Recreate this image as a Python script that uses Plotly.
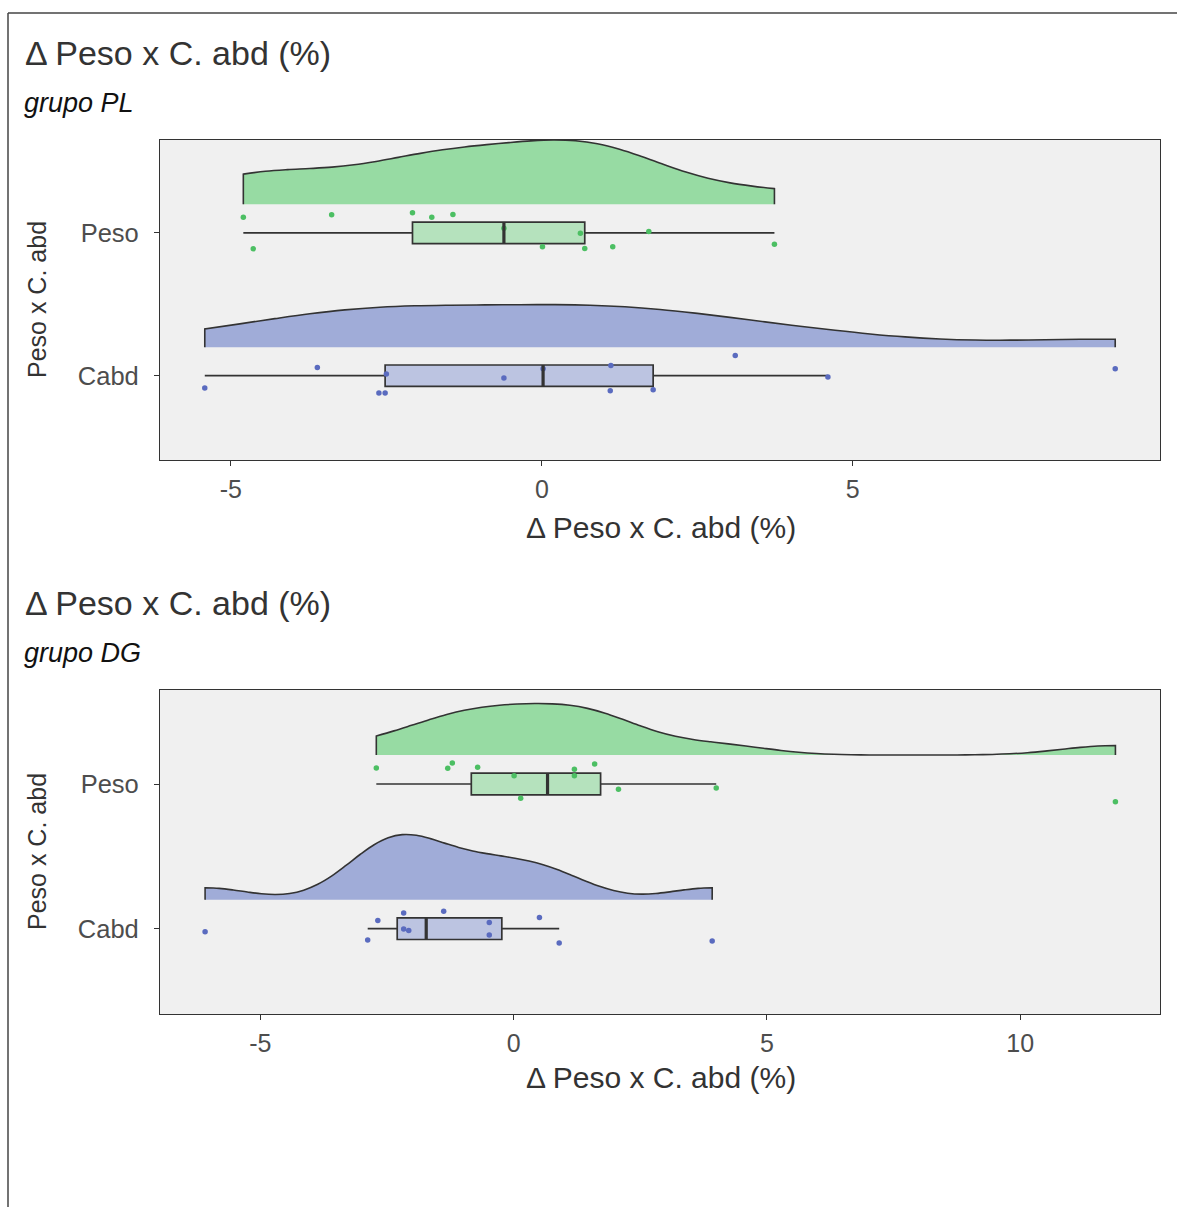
import numpy as np
import plotly.graph_objects as go

# ---------------- data ----------------
categories = ["Cabd", "Peso"]
panel_titles = ["Δ Peso x C. abd (%)", "Δ Peso x C. abd (%)"]
panel_subtitles = ["grupo PL", "grupo DG"]
axis_title_x = "Δ Peso x C. abd (%)"
axis_title_y = "Peso x C. abd"

pl_peso = [-4.80, -3.38, -2.08, -1.77, -1.43, -4.64, -0.61, 0.01, 0.62, 0.69, 1.14, 1.72, 3.74]
pl_peso_jitter = [0.11, 0.126, 0.14, 0.11, 0.128, -0.112, 0.033, -0.098, -0.002, -0.11, -0.098, 0.009, -0.079]
pl_cabd = [-5.42, -3.61, -2.62, -2.52, -2.50, -0.61, 0.02, 1.11, 1.10, 1.79, 3.11, 4.60, 9.22]
pl_cabd_jitter = [-0.086, 0.058, -0.121, -0.121, 0.012, -0.016, 0.049, 0.072, -0.105, -0.098, 0.142, -0.009, 0.049]

dg_peso = [-2.71, -1.30, -1.21, -0.71, 0.01, 0.14, 1.20, 1.20, 1.60, 2.07, 4.00, 11.88]
dg_peso_jitter = [0.111, 0.109, 0.146, 0.116, 0.058, -0.099, 0.102, 0.058, 0.139, -0.037, -0.028, -0.123]
dg_cabd = [-6.09, -2.88, -2.68, -2.17, -2.17, -2.07, -1.38, -0.48, -0.48, 0.51, 0.90, 3.92]
dg_cabd_jitter = [-0.021, -0.078, 0.056, 0.109, -0.002, -0.012, 0.12, 0.042, -0.044, 0.078, -0.099, -0.085]

x_ticks_pl = [-5, 0, 5]
x_ticklabels_pl = ["-5", "0", "5"]
x_ticks_dg = [-5, 0, 5, 10]
x_ticklabels_dg = ["-5", "0", "5", "10"]
x_range_pl = [-6.14, 9.94]
x_range_dg = [-6.98, 12.76]

# ---------------- styling ----------------
W, H = 1177, 1207
FONT = "Liberation Sans"
TXT = "#333333"
TICK_TXT = "#4d4d4d"
PANEL_BG = "#f0f0f0"
colors = {
    "Peso": dict(pt="#4cbf63", vio="rgba(62,198,86,0.5)", box="rgba(62,198,86,0.33)"),
    "Cabd": dict(pt="#5a6bbf", vio="rgba(80,104,192,0.5)", box="rgba(82,107,195,0.33)"),
}
pos = {"Cabd": 1, "Peso": 2}
NUDGE = 0.2
VIO_W = 0.9
BOX_W = 0.15


def px(x):
    return x / W


def py(y):
    return 1 - y / H


def bw_nrd0(v):
    v = np.asarray(v, float)
    sd = v.std(ddof=1)
    iqr = np.subtract(*np.percentile(v, [75, 25]))
    lo = min(sd, iqr / 1.34)
    return 0.9 * lo * len(v) ** (-0.2)


def max_density(v):
    v = np.asarray(v, float)
    h = bw_nrd0(v)
    grid = np.linspace(v.min(), v.max(), 512)
    d = np.exp(-0.5 * ((grid[:, None] - v[None, :]) / h) ** 2).sum(axis=1) / (len(v) * h * np.sqrt(2 * np.pi))
    return d.max()


def box_stats(v):
    v = np.asarray(v, float)
    q1, med, q3 = np.percentile(v, [25, 50, 75])
    iqr = q3 - q1
    lf = v[v >= q1 - 1.5 * iqr].min()
    uf = v[v <= q3 + 1.5 * iqr].max()
    return q1, med, q3, lf, uf


panels = [
    dict(name="PL", xa="x", ya="y", data={"Peso": (pl_peso, pl_peso_jitter), "Cabd": (pl_cabd, pl_cabd_jitter)},
         xr=x_range_pl, xt=x_ticks_pl, xtl=x_ticklabels_pl, top=140, bottom=460),
    dict(name="DG", xa="x2", ya="y2", data={"Peso": (dg_peso, dg_peso_jitter), "Cabd": (dg_cabd, dg_cabd_jitter)},
         xr=x_range_dg, xt=x_ticks_dg, xtl=x_ticklabels_dg, top=690, bottom=1014),
]

fig = go.Figure()

for p in panels:
    maxd = {cat: max_density(p["data"][cat][0]) for cat in ["Peso", "Cabd"]}
    group_max = max(maxd.values())
    for cat in ["Peso", "Cabd"]:
        vals, jit = p["data"][cat]
        c = colors[cat]
        y0 = pos[cat]
        # half violin (area-scaled like ggplot)
        fig.add_trace(go.Violin(
            x=vals, y0=y0 + NUDGE, orientation="h", side="positive",
            width=VIO_W * maxd[cat] / group_max, spanmode="hard", bandwidth=bw_nrd0(vals),
            scalemode="width",
            fillcolor=c["vio"], line=dict(color="#333333", width=1.6),
            points=False, box_visible=False, meanline_visible=False,
            xaxis=p["xa"], yaxis=p["ya"], showlegend=False, hoverinfo="skip",
        ))
        # box
        q1, med, q3, lf, uf = box_stats(vals)
        fig.add_trace(go.Box(
            y=[y0], q1=[q1], median=[med], q3=[q3], lowerfence=[lf], upperfence=[uf],
            orientation="h", width=BOX_W, whiskerwidth=0, boxpoints=False,
            fillcolor=c["box"], line=dict(color="#333333", width=1.7),
            xaxis=p["xa"], yaxis=p["ya"], showlegend=False, hoverinfo="skip",
        ))
        # jittered points
        fig.add_trace(go.Scatter(
            x=vals, y=[y0 + j for j in jit], mode="markers",
            marker=dict(color=c["pt"], size=5.5, line=dict(width=0)),
            xaxis=p["xa"], yaxis=p["ya"], showlegend=False, hoverinfo="skip",
        ))
        # thick median line
        fig.add_trace(go.Scatter(
            x=[med, med], y=[y0 - BOX_W / 2, y0 + BOX_W / 2], mode="lines",
            line=dict(color="#333333", width=3.2),
            xaxis=p["xa"], yaxis=p["ya"], showlegend=False, hoverinfo="skip",
        ))

x_dom = [px(160), px(1160)]
common_x = dict(showgrid=False, zeroline=False, showline=True, mirror=True, linecolor="#333333", linewidth=1.2,
                ticks="outside", ticklen=5, tickcolor="#333333", tickwidth=1.2,
                tickfont=dict(family=FONT, size=25, color=TICK_TXT), ticklabelstandoff=2)
common_y = dict(showgrid=False, zeroline=False, showline=True, mirror=True, linecolor="#333333", linewidth=1.2,
                ticks="outside", ticklen=5, tickcolor="#333333", tickwidth=1.2,
                tickvals=[pos[c] for c in categories], ticktext=categories, range=[0.41, 2.65],
                tickfont=dict(family=FONT, size=25.5, color=TICK_TXT), ticklabelstandoff=10)

p1, p2 = panels
fig.update_layout(
    width=W, height=H, margin=dict(l=0, r=0, t=0, b=0), autosize=False,
    paper_bgcolor="white", plot_bgcolor=PANEL_BG,
    xaxis=dict(domain=x_dom, range=p1["xr"], tickvals=p1["xt"], ticktext=p1["xtl"], anchor="y", **common_x),
    yaxis=dict(domain=[py(p1["bottom"]), py(p1["top"])], anchor="x", **common_y),
    xaxis2=dict(domain=x_dom, range=p2["xr"], tickvals=p2["xt"], ticktext=p2["xtl"], anchor="y2", **common_x),
    yaxis2=dict(domain=[py(p2["bottom"]), py(p2["top"])], anchor="x2", **common_y),
)

ann = []
for i, p in enumerate(panels):
    off = 0 if i == 0 else 550
    ann.append(dict(text=panel_titles[i], x=px(23), y=py(53 + off), xref="paper", yref="paper",
                    xanchor="left", yanchor="middle", showarrow=False,
                    font=dict(family=FONT, size=34, color=TXT)))
    ann.append(dict(text="<i>" + panel_subtitles[i] + "</i>", x=px(22), y=py(103 + off), xref="paper", yref="paper",
                    xanchor="left", yanchor="middle", showarrow=False,
                    font=dict(family=FONT, size=27, color="#111111")))
    ann.append(dict(text=axis_title_x, x=px(661), y=py(527 + off), xref="paper", yref="paper",
                    xanchor="center", yanchor="middle", showarrow=False,
                    font=dict(family=FONT, size=30, color=TXT)))
    ann.append(dict(text=axis_title_y, x=px(37), y=py((p["top"] + p["bottom"]) / 2), xref="paper", yref="paper",
                    xanchor="center", yanchor="middle", showarrow=False, textangle=-90,
                    font=dict(family=FONT, size=25, color=TXT)))
fig.update_layout(annotations=ann)

fig.update_layout(shapes=[
    dict(type="line", xref="paper", yref="paper", x0=px(8), x1=1, y0=py(13), y1=py(13),
         line=dict(color="#444444", width=1.5)),
    dict(type="line", xref="paper", yref="paper", x0=px(8), x1=px(8), y0=py(13), y1=0,
         line=dict(color="#444444", width=1.5)),
])

fig.write_html("out.html")
